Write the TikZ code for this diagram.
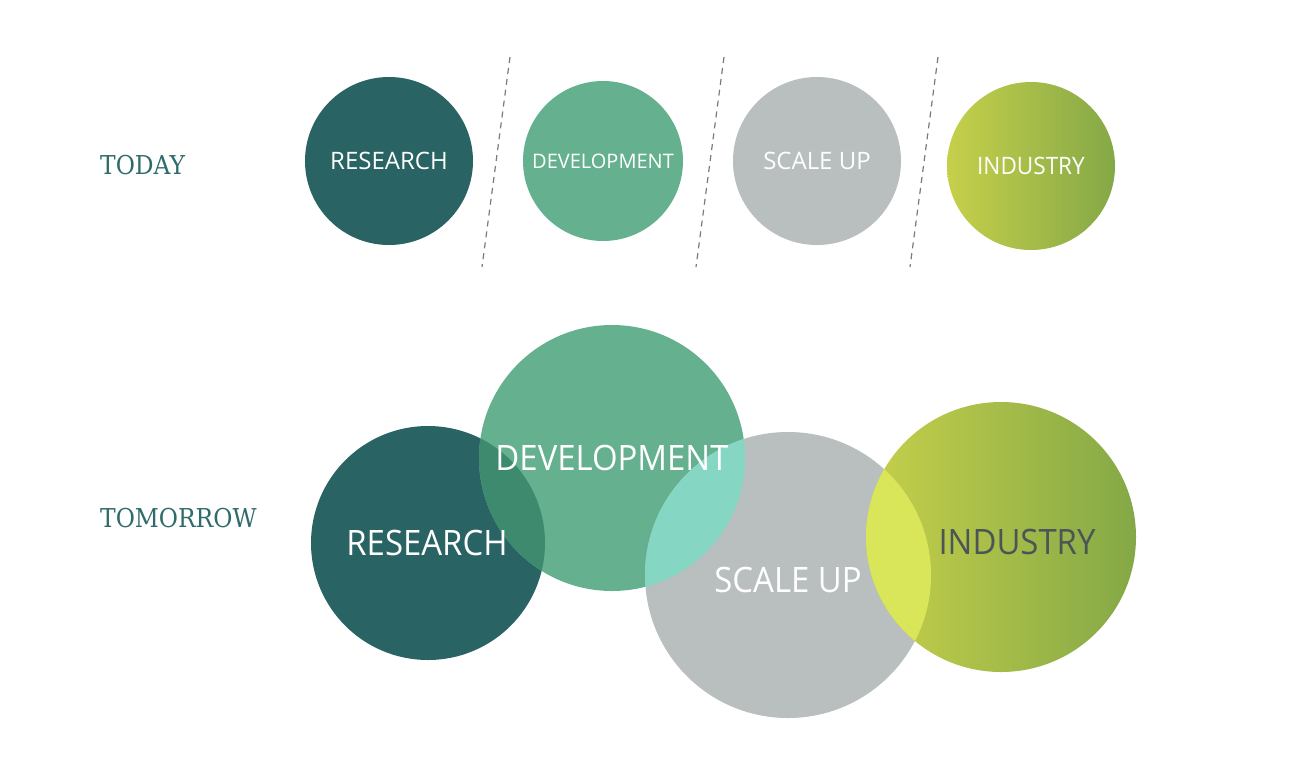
\documentclass[tikz,border=0pt]{standalone}
\usepackage{fontspec}
\setmainfont{Open Sans}
\newfontfamily\slabfont{DejaVu Serif Condensed}
\newcommand{\narrowtext}[1]{\scalebox{0.94}[1]{#1}}
\definecolor{research}{HTML}{2A6363}
\definecolor{develop}{HTML}{64B08F}
\definecolor{scaleup}{HTML}{B9BFBE}
\definecolor{indleft}{HTML}{C6D04A}
\definecolor{indright}{HTML}{84A847}
\definecolor{resdev}{HTML}{3D8A6E}
\definecolor{devscale}{HTML}{85D6C3}
\definecolor{scaleind}{HTML}{DAE65A}
\definecolor{labelteal}{HTML}{2E6B6A}
\definecolor{indtext}{HTML}{4B5556}
\definecolor{divider}{HTML}{7A7A7A}
\tikzset{
  phase/.style={circle, inner sep=0pt, minimum size=#1},
  phasetext/.style={text=white, inner sep=0pt},
  small/.style={font=\fontsize{24}{24}\selectfont},
  big/.style={font=\fontsize{35}{35}\selectfont},
  rowlabel/.style={anchor=west, inner sep=0pt, text=labelteal, font=\slabfont\fontsize{26}{26}\selectfont},
  divide/.style={divider, line width=1.2pt, dash pattern=on 6pt off 5pt}
}
\begin{document}
\begin{tikzpicture}[x=1pt,y=-1pt]
\useasboundingbox (0,0) rectangle (1312,780);
% today
\node[rowlabel] (today) at (100,165) {TODAY};
\node[phase=168pt, fill=research] (res1) at (389,161) {};
\node[phase=160pt, fill=develop] (dev1) at (603,161) {};
\node[phase=168pt, fill=scaleup] (sca1) at (817,161) {};
\node[phase=168pt, left color=indleft, right color=indright] (ind1) at (1031,166) {};
\coordinate (d1a) at (510,57); \coordinate (d1b) at (482,267);
\coordinate (d2a) at (724,57); \coordinate (d2b) at (696,267);
\coordinate (d3a) at (938,57); \coordinate (d3b) at (910,267);
\draw[divide] (d1a)--(d1b);
\draw[divide] (d2a)--(d2b);
\draw[divide] (d3a)--(d3b);
\node[phasetext, small] (res1t) at (389,161) {RESEARCH};
\node[phasetext, small] (dev1t) at (603,161) {\fontsize{20}{20}\selectfont DEVELOPMENT};
\node[phasetext, small] (sca1t) at (817,161) {SCALE UP};
\node[phasetext, small] (ind1t) at (1031,166) {\narrowtext{INDUSTRY}};
% tomorrow
\node[rowlabel] (tomorrow) at (100,518) {TOMORROW};
\node[phase=234pt, fill=research] (res2) at (428,543) {};
\node[phase=266pt, fill=develop] (dev2) at (612,458) {};
\node[phase=286pt, fill=scaleup] (sca2) at (788,575) {};
\node[phase=270pt, left color=indleft, right color=indright] (ind2) at (1001,537) {};
\begin{scope}
\clip (res2.center) circle[radius=117pt];
\fill[resdev] (dev2.center) circle[radius=133pt];
\end{scope}
\begin{scope}
\clip (dev2.center) circle[radius=133pt];
\fill[devscale] (sca2.center) circle[radius=143pt];
\end{scope}
\begin{scope}
\clip (sca2.center) circle[radius=143pt];
\fill[scaleind] (ind2.center) circle[radius=135pt];
\end{scope}
\node[phasetext, big] (res2t) at (427,543) {\narrowtext{RESEARCH}};
\node[phasetext, big] (dev2t) at (612,458) {\narrowtext{DEVELOPMENT}};
\node[phasetext, big] (sca2t) at (788,580) {\narrowtext{SCALE UP}};
\node[phasetext, big, text=indtext] (ind2t) at (1017,542) {\narrowtext{INDUSTRY}};
\end{tikzpicture}
\end{document}
